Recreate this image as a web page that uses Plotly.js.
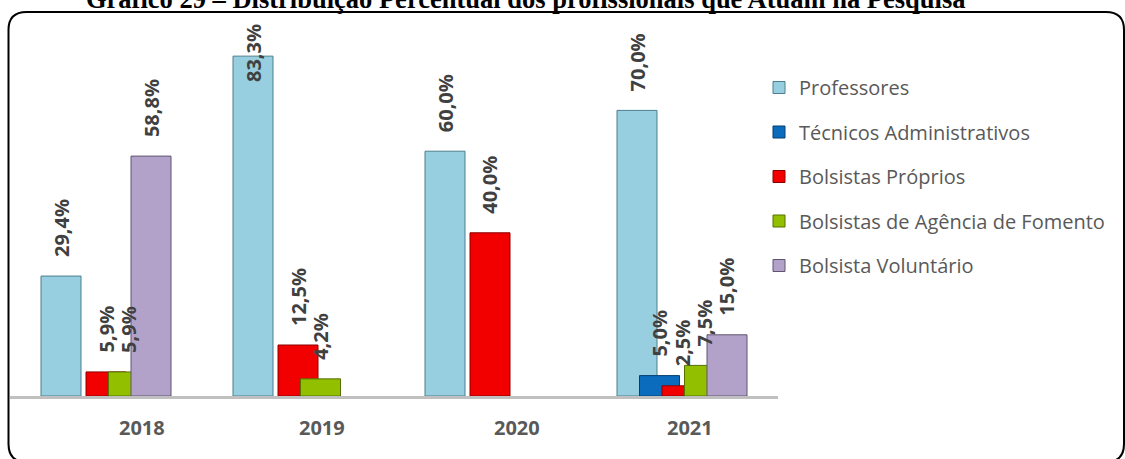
<!DOCTYPE html>
<html>
<head>
<meta charset="utf-8">
<script src="https://cdn.plot.ly/plotly-3.0.1.min.js"></script>
<style>
  html, body { margin: 0; padding: 0; background: #ffffff; }
  #chart { width: 1125px; height: 459px; }
</style>
</head>
<body>
<div id="chart"></div>
<script>
// ---- data ----
const categories = ['2018', '2019', '2020', '2021'];
const seriesNames = ['Professores', 'Técnicos Administrativos', 'Bolsistas Próprios',
                     'Bolsistas de Agência de Fomento', 'Bolsista Voluntário'];
const professores        = [29.4, 83.3, 60.0, 70.0];
const tecnicos           = [null, null, null, 5.0];
const bolsistasProprios  = [5.9, 12.5, 40.0, 2.5];
const bolsistasAgencia   = [5.9, 4.2, null, 7.5];
const bolsistaVoluntario = [58.8, null, null, 15.0];
const titleText = 'Gráfico 29 – Distribuição Percentual dos profissionais que Atuam na Pesquisa';

// ---- styles / layout constants ----
const seriesValues = [professores, tecnicos, bolsistasProprios, bolsistasAgencia, bolsistaVoluntario];
const fills = ['#97cfe0', '#0b6cbd', '#f20000', '#92c000', '#b2a2c9'];
const edges = ['#4d7f8e', '#063f70', '#8a0000', '#557000', '#5f5470'];
const W = 1125, H = 459, ML = 10, PW = 768, MT = 15, MB = 63;
const MR = W - ML - PW, PH = H - MT - MB;
const YMAX = PH / 4.08;
const unitPx = PW / categories.length;
const barW = 40 / unitPx, slot = 22.5 / unitPx;
const yearShift = [36, 24, 27, 8];
const px2x = p => (p - ML) / PW;
const px2y = p => (H - MB - p) / PH;
const fmt = v => v.toFixed(1).replace('.', ',') + '%';

const traces = seriesValues.map((vals, i) => ({
  type: 'bar',
  name: seriesNames[i],
  x: categories,
  y: vals,
  width: barW,
  offset: (i - 2) * slot - barW / 2,
  marker: { color: fills[i], line: { color: edges[i], width: 1 } },
  legendgroup: 'g' + i,
  hoverinfo: 'skip'
}));

const annotations = [];
const labelFont = { family: 'Open Sans', size: 20, color: '#404040', weight: 'bold' };
seriesValues.forEach((vals, i) => {
  vals.forEach((v, c) => {
    if (v === null) return;
    const txt = fmt(v);
    const textLen = txt.length * 11.6;
    const barTopPx = MT + (YMAX - v) / YMAX * PH;
    const topPx = barTopPx - 17 - textLen;
    const a = {
      x: c + (i - 2) * slot, xref: 'x', text: txt, textangle: -90,
      showarrow: false, font: labelFont, xanchor: 'center'
    };
    if (topPx < 22) {
      a.yref = 'paper'; a.y = px2y(22); a.yanchor = 'top';
    } else {
      a.yref = 'y'; a.y = v; a.yshift = 17; a.yanchor = 'bottom';
    }
    annotations.push(a);
  });
});
categories.forEach((cat, c) => {
  annotations.push({
    x: c, xref: 'x', xshift: yearShift[c], y: px2y(427.5), yref: 'paper',
    yanchor: 'middle', xanchor: 'center', showarrow: false, text: cat,
    font: { family: 'Open Sans', size: 20, color: '#595959', weight: 'bold' }
  });
});
annotations.push({
  x: px2x(525), xref: 'paper', y: px2y(-1), yref: 'paper', xanchor: 'center', yanchor: 'middle',
  showarrow: false, text: titleText,
  font: { family: 'Liberation Serif', size: 26.5, color: '#000000', weight: 'bold' }
});

// rounded frame
function framePath(x0, y0, x1, y1, r) {
  const X = px2x, Y = px2y;
  return 'M' + X(x0 + r) + ',' + Y(y0) +
    ' L' + X(x1 - r) + ',' + Y(y0) +
    ' Q' + X(x1) + ',' + Y(y0) + ' ' + X(x1) + ',' + Y(y0 + r) +
    ' L' + X(x1) + ',' + Y(y1 - r) +
    ' Q' + X(x1) + ',' + Y(y1) + ' ' + X(x1 - r) + ',' + Y(y1) +
    ' L' + X(x0 + r) + ',' + Y(y1) +
    ' Q' + X(x0) + ',' + Y(y1) + ' ' + X(x0) + ',' + Y(y1 - r) +
    ' L' + X(x0) + ',' + Y(y0 + r) +
    ' Q' + X(x0) + ',' + Y(y0) + ' ' + X(x0 + r) + ',' + Y(y0) + ' Z';
}

const layout = {
  width: W, height: H,
  margin: { l: ML, r: MR, t: MT, b: MB },
  paper_bgcolor: '#ffffff', plot_bgcolor: 'rgba(0,0,0,0)',
  barmode: 'overlay',
  showlegend: true,
  legend: {
    x: px2x(759), y: px2y(68), xanchor: 'left', yanchor: 'top',
    traceorder: 'grouped', tracegroupgap: 15.5,
    font: { family: 'Open Sans', size: 20, color: '#595959' },
    bgcolor: 'rgba(0,0,0,0)'
  },
  xaxis: {
    type: 'category', range: [-0.5, categories.length - 0.5],
    showticklabels: false, ticks: '', showgrid: false, zeroline: false,
    showline: true, linecolor: '#c0c0c0', linewidth: 3, fixedrange: true
  },
  yaxis: {
    range: [0, YMAX], visible: false, showgrid: false, zeroline: false, fixedrange: true
  },
  annotations: annotations,
  shapes: [{
    type: 'path', xref: 'paper', yref: 'paper',
    path: framePath(8.5, 12, 1124, 462, 18),
    line: { color: '#000000', width: 2 }, fillcolor: 'rgba(0,0,0,0)', layer: 'below'
  }]
};

Plotly.newPlot('chart', traces, layout, { displayModeBar: false, staticPlot: true });
</script>
</body>
</html>
